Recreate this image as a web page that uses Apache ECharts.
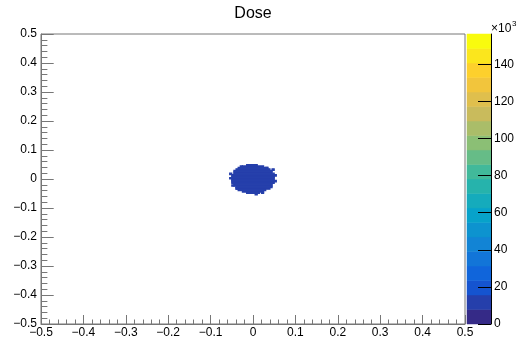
<!DOCTYPE html>
<html>
<head>
<meta charset="utf-8">
<script src="https://cdn.jsdelivr.net/npm/echarts@6/dist/echarts.min.js"></script>
<style>html,body{margin:0;padding:0;background:#fff}#c{width:521px;height:345px}</style>
</head>
<body>
<div id="c"></div>
<script>
// ---- data ----
const chartTitle = 'Dose';
const axisMin = -0.5, axisMax = 0.5;
const axisTickLabels = [-0.5,-0.4,-0.3,-0.2,-0.1,0,0.1,0.2,0.3,0.4,0.5];
// blob rows (bin lower y edge, x range, content)
const blobRowYLow  = [-0.050,-0.045,-0.040,-0.035,-0.030,-0.025,-0.020,-0.015,-0.010,-0.005, 0.000, 0.005, 0.010, 0.015, 0.020, 0.025, 0.030, 0.035, 0.040, 0.045];
const blobRowXLow  = [-0.015,-0.025,-0.035,-0.040,-0.040,-0.045,-0.045,-0.050,-0.050,-0.050,-0.050,-0.050,-0.050,-0.045,-0.045,-0.045,-0.040,-0.035,-0.025,-0.015];
const blobRowXHigh = [ 0.015, 0.025, 0.030, 0.040, 0.045, 0.045, 0.045, 0.050, 0.050, 0.050, 0.050, 0.050, 0.050, 0.050, 0.045, 0.045, 0.040, 0.035, 0.025, 0.010];
const blobRowValue = [11000,12000,12500,12800,13000,13000,13200,13300,13400,13500,13500,13400,13300,13200,13000,13000,12800,12500,12000,11000];
// stray edge bins (lower-left corner) and content
const strayX = [-0.055, 0.050, -0.055, 0.050, -0.030, 0.020, -0.010, 0.005, -0.050, 0.045, 0.030, -0.040];
const strayY = [ 0.000,-0.010, 0.015, 0.010, 0.040,-0.050, 0.045,-0.055,-0.025, 0.030, 0.035,-0.035];
const strayV = [ 9000, 9000, 9000, 8500, 9000, 9000, 8500, 9000, 9000, 9000, 9000, 9000];
const binSize = 0.005;
// colour scale (z) contour levels and tick labels
const zLevels = [0,7820,15640,23460,31280,39100,46920,54740,62560,70380,78200,86020,93840,101660,109480,117300,125120,132940,140760,148580,156400];
const zTicks = [0,20000,40000,60000,80000,100000,120000,140000];

// ---- kBird palette ----
const stops = [0.0000,0.1250,0.2500,0.3750,0.5000,0.6250,0.7500,0.8750,1.0000];
const pr = [0.2082,0.0592,0.0780,0.0232,0.1802,0.5301,0.8186,0.9956,0.9764];
const pg = [0.1664,0.3599,0.5041,0.6419,0.7178,0.7492,0.7328,0.7862,0.9832];
const pb = [0.5293,0.8684,0.8385,0.7914,0.6425,0.4662,0.3499,0.1968,0.0539];
function bird(t){
  let k=0; while(k<stops.length-2 && t>stops[k+1]) k++;
  const f=(t-stops[k])/(stops[k+1]-stops[k]);
  const c=a=>Math.round(255*(a[k]+(a[k+1]-a[k])*f));
  return 'rgb('+c(pr)+','+c(pg)+','+c(pb)+')';
}
const nLev = zLevels.length-1;
const levelColors = [];
for(let i=0;i<nLev;i++) levelColors.push(bird(i/(nLev-1)));
function colorOf(v){
  for(let i=0;i<nLev;i++) if(v<zLevels[i+1]) return levelColors[i];
  return levelColors[nLev-1];
}

const cells = [];
for(let i=0;i<blobRowYLow.length;i++)
  cells.push([blobRowXLow[i], blobRowXHigh[i], blobRowYLow[i], blobRowYLow[i]+binSize, blobRowValue[i]]);
for(let i=0;i<strayX.length;i++)
  cells.push([strayX[i], strayX[i]+binSize, strayY[i], strayY[i]+binSize, strayV[i]]);

const bands = [];
for(let i=0;i<nLev;i++) bands.push([zLevels[i], zLevels[i+1], i]);

const fmt = v => { if(Math.abs(v)<1e-9) return '0'; return v.toFixed(1).replace('-', '\u2212'); };
const FONT = 'Liberation Sans, Arial, Helvetica, sans-serif';
const AX = '#777';

const chart = echarts.init(document.getElementById('c'), null, {renderer:'canvas'});
chart.setOption({
  animation:false,
  backgroundColor:'#fff',
  textStyle:{fontFamily:FONT},
  grid:[
    {left:41, top:34, width:424, height:290, show:true, borderColor:AX, borderWidth:1, backgroundColor:'transparent'},
    {left:467, top:34, width:24, height:290, show:false}
  ],
  xAxis:[
    {type:'value', gridIndex:0, min:axisMin, max:axisMax, interval:0.1,
     axisLine:{show:true, onZero:false, lineStyle:{color:AX}},
     axisTick:{show:true, inside:true, length:9, lineStyle:{color:AX}},
     minorTick:{show:true, splitNumber:5, length:4.5, lineStyle:{color:AX}},
     splitLine:{show:false},
     axisLabel:{customValues:axisTickLabels, formatter:fmt, fontSize:12, color:'#000', margin:3, fontFamily:FONT}},
    {type:'value', gridIndex:1, min:0, max:1, show:false}
  ],
  yAxis:[
    {type:'value', gridIndex:0, min:axisMin, max:axisMax, interval:0.1,
     axisLine:{show:true, onZero:false, lineStyle:{color:AX}},
     axisTick:{show:true, inside:true, length:12.7, lineStyle:{color:AX}},
     minorTick:{show:true, splitNumber:5, length:6.4, lineStyle:{color:AX}},
     splitLine:{show:false},
     axisLabel:{customValues:axisTickLabels, formatter:fmt, fontSize:12, color:'#000', margin:4, fontFamily:FONT}},
    {type:'value', gridIndex:1, min:zLevels[0], max:zLevels[nLev], position:'right', z:10,
     axisLine:{show:true, onZero:false, lineStyle:{color:'#000'}},
     axisTick:{show:true, inside:true, length:13, customValues:zTicks, lineStyle:{color:'#000'}},
     splitLine:{show:false},
     axisLabel:{customValues:zTicks, formatter:v=>String(Math.round(v/1000)), fontSize:12, color:'#000', margin:3, fontFamily:FONT}}
  ],
  series:[
    {type:'custom', xAxisIndex:0, yAxisIndex:0, data:cells, clip:true,
     renderItem:function(params, api){
       const p0 = api.coord([api.value(0), api.value(3)]);
       const p1 = api.coord([api.value(1), api.value(2)]);
       const col = colorOf(api.value(4));
       return {type:'rect', shape:{x:p0[0], y:p0[1], width:p1[0]-p0[0], height:p1[1]-p0[1]},
               style:{fill:col, stroke:col, lineWidth:1.2}};
     }},
    {type:'custom', xAxisIndex:1, yAxisIndex:1, data:bands, z:1,
     renderItem:function(params, api){
       const p0 = api.coord([0, api.value(1)]);
       const p1 = api.coord([1, api.value(0)]);
       const col = levelColors[api.value(2)];
       return {type:'rect', shape:{x:p0[0], y:p0[1], width:p1[0]-p0[0], height:p1[1]-p0[1]},
               style:{fill:col, stroke:col, lineWidth:0.5}};
     }}
  ],
  graphic:[
    {type:'text', x:253, y:14, style:{text:chartTitle, font:'16px '+FONT, fill:'#000', align:'center', verticalAlign:'middle'}},
    {type:'text', x:491, y:29, style:{text:'\u00d710', font:'12px '+FONT, fill:'#000', align:'left', verticalAlign:'middle'}},
    {type:'text', x:512, y:24, style:{text:'3', font:'8px '+FONT, fill:'#000', align:'left', verticalAlign:'middle'}}
  ]
});
</script>
</body>
</html>
